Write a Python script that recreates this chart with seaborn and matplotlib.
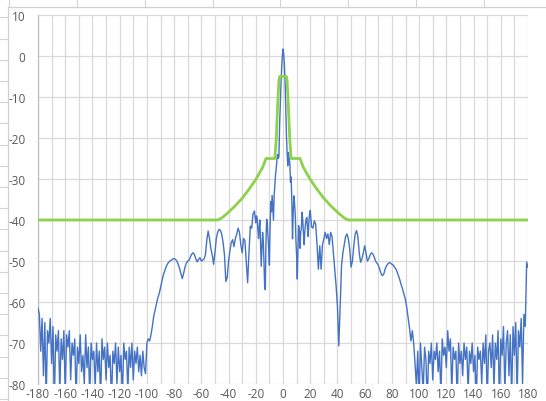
import numpy as np
import pandas as pd
import matplotlib
matplotlib.use("Agg")
import matplotlib.pyplot as plt
from matplotlib.lines import Line2D
import seaborn as sns

# ---------------- data ----------------
# measured pattern, 1 deg steps from -180 to -21
pattern_left = [
    -61.5, -63, -72, -64, -78, -65, -84, -67, -70, -64,
    -75, -66, -85, -68, -72, -67, -82, -69, -74, -67,
    -83, -68, -71, -67, -79, -70, -73, -69, -84, -71,
    -75, -68, -77, -73, -80, -68, -76, -71, -83, -70,
    -74, -72, -81, -70, -77, -72, -84, -69, -74, -71,
    -79, -70, -76, -73, -85, -72, -75, -70, -80, -71,
    -77, -73, -84, -70, -74, -72, -82, -71, -76, -70,
    -79, -72, -75, -71, -77, -73, -78, -72, -76, -77.5,
    -70,
    -69, -69.5, -68, -66, -63.5, -62, -60.5, -59, -58, -56.5,
    -55, -53.5, -52.5, -51.5, -50.8, -50.3, -50, -49.8, -49.5, -49.4,
    -49.6, -50, -50.8, -51.8, -53, -54.3, -53, -51.5, -50.5, -50,
    -49.8, -49, -48.3, -48, -48.5, -49.5, -50.2, -49.6, -49.2, -50,
    -49.8, -49.5, -48.5, -45, -42.7, -44.5, -47, -48.5, -50.8, -48,
    -44.5, -43, -42.3, -42.5, -43.5, -45.5, -48.5, -55, -54, -50,
    -47.5, -45.5, -44.8, -46.5, -44.5, -43.5, -42, -43, -46, -48,
    -44.5, -45, -50, -55.3, -48, -41.5, -42, -38.5, -37.8,
]
# main lobe region, 0.5 deg steps from -20 to 20
pattern_center = [
    -40.7, -39, -39.5, -42, -44.5, -42, -40, -46, -51.3, -47,
    -43, -45, -50, -56, -57, -45, -39.8, -41, -44, -47,
    -51, -42, -35.5, -38, -34, -37, -40, -34, -31.6, -29,
    -27.5, -25.5, -24, -25, -24.5, -17, -12, -7, -3, 0,
    1.7,
    0.5, -2, -6, -12, -19, -23.5, -26.8, -23.5, -25, -26,
    -30.8, -29.5, -35.6, -44.6, -38, -34.1, -36, -38.6, -45, -48.7,
    -54.4, -47, -41.4, -43, -46.9, -43, -42, -38.1, -40, -43,
    -46, -43, -41, -39.8, -39.4, -42, -44, -40.5, -38.5, -37.7,
]
# 1 deg steps from 21 to 180
pattern_right = [
    -41.7, -42, -40.2, -41, -46, -52, -46.3, -52, -46, -44.6,
    -43, -44.5, -43.4, -46, -43, -44, -48, -52, -56, -61,
    -70.7, -61, -51.2, -48, -46, -44, -43.4, -44.6, -47, -51.5,
    -50, -46.3, -43.5, -42.6, -44, -48, -50.3, -49.5, -48, -46.3,
    -48, -50, -49.5, -48.5, -48, -48.3, -49, -50, -50.5, -51,
    -52, -53, -53.6, -53.2, -52, -51.2, -50.7, -50.4, -50.5, -50.8,
    -51, -51.5, -52, -52.8, -53.8, -54.8, -56, -57, -58.2, -59.5,
    -61.5, -64, -66.5, -69.5, -67, -70, -75, -80.5,
    -72, -84, -70, -76, -82, -71, -74, -85, -72, -75,
    -70, -79, -72, -74, -70, -77, -72, -83, -69, -73,
    -71, -76, -67, -72, -69, -82, -71, -74, -72, -84,
    -70, -75, -72, -78, -70, -74, -71, -82, -72, -75,
    -70, -77, -73, -85, -71, -74, -72, -80, -70, -75,
    -68, -84, -72, -70, -76, -68, -81, -70, -74, -67,
    -85, -69, -73, -66, -82, -70, -67, -78, -68, -84,
    -66, -73, -65, -83, -67, -71, -64, -80, -63, -66,
    -50.3, -51.5,
]

# limit mask (green)
mask_angles = [-180, -48, -45, -40, -35, -30, -25, -20, -15, -12.5, -6, -5, -4, -3, -2.5,
               2.5, 3, 4, 5, 6, 12.5, 15, 20, 25, 30, 35, 40, 45, 48, 180]
mask_values = [-40, -40, -39.5, -38.1, -36.5, -34.7, -32.5, -30.1, -27.2, -25, -25, -20.5, -12.5, -6, -5,
               -5, -6, -12.5, -20.5, -25, -25, -27.2, -30.1, -32.5, -34.7, -36.5, -38.1, -39.5, -40, -40]

x_ticks = list(range(-180, 181, 20))
y_ticks = list(range(-80, 11, 10))

# ---------------- assemble ----------------
ang_left = -180 + np.arange(len(pattern_left)) * 1.0
ang_center = -20 + np.arange(len(pattern_center)) * 0.5
ang_right = 21 + np.arange(len(pattern_right)) * 1.0
pattern = pd.DataFrame({
    "angle": np.concatenate([ang_left, ang_center, ang_right]),
    "level": pattern_left + pattern_center + pattern_right,
})
mask = pd.DataFrame({"angle": mask_angles, "level": mask_values})

# ---------------- figure ----------------
W, H = 546, 402
fig = plt.figure(figsize=(W / 100, H / 100), dpi=100)
fig.patch.set_facecolor("white")

def px(x, y):
    return x / W, 1 - y / H

cell_col = "#d4d4d4"
# spreadsheet row lines on the left strip
for k in range(20):
    yy = 18.3 + 21.2 * k
    if yy > H:
        break
    x0, y0 = px(0, yy)
    x1, _ = px(8, yy)
    fig.add_artist(Line2D([x0, x1], [y0, y0], color=cell_col, lw=0.8, transform=fig.transFigure))
# spreadsheet column lines on the top strip
for k in range(10):
    xx = 9.2 + 67.8 * k
    if xx > W:
        break
    x0, y0 = px(xx, 0)
    _, y1 = px(xx, 8)
    fig.add_artist(Line2D([x0, x0], [y0, y1], color=cell_col, lw=0.8, transform=fig.transFigure))
# chart area border
bx0, by0 = px(8.3, 8.3)
fig.add_artist(Line2D([bx0, 1], [by0, by0], color="#d0d0d0", lw=0.9, transform=fig.transFigure))
fig.add_artist(Line2D([bx0, bx0], [0, by0], color="#d0d0d0", lw=0.9, transform=fig.transFigure))

l, b = px(38, 385)
r, t = px(528, 16)
ax = fig.add_axes([l, b, r - l, t - b])
ax.set_facecolor("white")

sns.lineplot(data=pattern, x="angle", y="level", ax=ax, color="#4472C4",
             linewidth=1.0, estimator=None, sort=False, zorder=3)
sns.lineplot(data=mask, x="angle", y="level", ax=ax, color="#8ED14B",
             linewidth=2.0, estimator=None, sort=False, zorder=4)

ax.set_xlim(-180, 180)
ax.set_ylim(-80, 10)
ax.set_xticks(x_ticks)
ax.set_xticklabels([str(v) for v in x_ticks])
ax.set_xticks([v for v in range(-170, 180, 20)], minor=True)
ax.set_yticks(y_ticks)
ax.set_yticklabels([str(v) for v in y_ticks])
ax.grid(True, which="both", color="#d9d9d9", linewidth=0.9, zorder=0)
ax.set_axisbelow(True)
ax.tick_params(axis="both", which="both", length=0, labelsize=8.5, labelcolor="#595959")
ax.tick_params(axis="y", pad=9)
ax.tick_params(axis="x", pad=2)
for lab in ax.get_xticklabels() + ax.get_yticklabels():
    lab.set_fontfamily("Open Sans")
ax.set_xlabel("")
ax.set_ylabel("")
for side in ["top", "right", "bottom"]:
    ax.spines[side].set_visible(False)
ax.spines["left"].set_color("#bfbfbf")
ax.spines["left"].set_linewidth(0.9)

fig.savefig("out.png", dpi=100, facecolor="white")
